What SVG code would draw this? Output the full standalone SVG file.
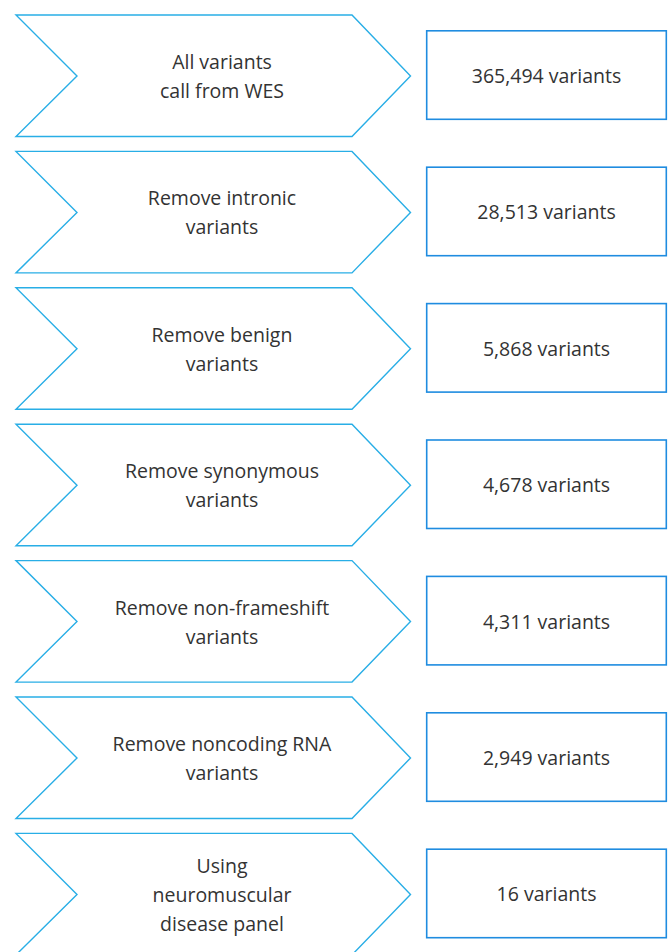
<svg xmlns="http://www.w3.org/2000/svg" width="671" height="952" viewBox="0 0 671 952">
<style>
.chev{fill:#fff;stroke:#29aee6;stroke-width:1.4;stroke-linejoin:miter}
.box{fill:#fff;stroke:#1f8ce0;stroke-width:1.6}
text{font-family:"Open Sans","Noto Sans","Liberation Sans",sans-serif;font-size:19.5px;fill:#333;text-anchor:middle}
</style>
<rect width="671" height="952" fill="#fff"/>
<g id="step1"><polygon class="chev" points="16,15 352,15 410.5,76 352,136.5 16,136.5 77,76"/><text x="222" y="69">All variants</text><text x="222" y="98">call from WES</text></g>
<g id="count1"><rect class="box" x="426.7" y="30.8" width="239.6" height="88.5"/><text x="546.5" y="83">365,494 variants</text></g>
<g id="step2"><polygon class="chev" points="16,151.4 352,151.4 410.5,212.4 352,272.9 16,272.9 77,212.4"/><text x="222" y="205.4">Remove intronic</text><text x="222" y="234.4">variants</text></g>
<g id="count2"><rect class="box" x="426.7" y="167.2" width="239.6" height="88.5"/><text x="546.5" y="219.4">28,513 variants</text></g>
<g id="step3"><polygon class="chev" points="16,287.8 352,287.8 410.5,348.8 352,409.3 16,409.3 77,348.8"/><text x="222" y="341.8">Remove benign</text><text x="222" y="370.8">variants</text></g>
<g id="count3"><rect class="box" x="426.7" y="303.6" width="239.6" height="88.5"/><text x="546.5" y="355.8">5,868 variants</text></g>
<g id="step4"><polygon class="chev" points="16,424.2 352,424.2 410.5,485.2 352,545.7 16,545.7 77,485.2"/><text x="222" y="478.2">Remove synonymous</text><text x="222" y="507.2">variants</text></g>
<g id="count4"><rect class="box" x="426.7" y="440" width="239.6" height="88.5"/><text x="546.5" y="492.2">4,678 variants</text></g>
<g id="step5"><polygon class="chev" points="16,560.6 352,560.6 410.5,621.6 352,682.1 16,682.1 77,621.6"/><text x="222" y="614.6">Remove non-frameshift</text><text x="222" y="643.6">variants</text></g>
<g id="count5"><rect class="box" x="426.7" y="576.4" width="239.6" height="88.5"/><text x="546.5" y="628.6">4,311 variants</text></g>
<g id="step6"><polygon class="chev" points="16,697 352,697 410.5,758 352,818.5 16,818.5 77,758"/><text x="222" y="751">Remove noncoding RNA</text><text x="222" y="780">variants</text></g>
<g id="count6"><rect class="box" x="426.7" y="712.8" width="239.6" height="88.5"/><text x="546.5" y="765">2,949 variants</text></g>
<g id="step7"><polygon class="chev" points="16,833.4 352,833.4 410.5,894.4 352,954.9 16,954.9 77,894.4"/><text x="222" y="873">Using</text><text x="222" y="902">neuromuscular</text><text x="222" y="930.5">disease panel</text></g>
<g id="count7"><rect class="box" x="426.7" y="849.2" width="239.6" height="88.5"/><text x="546.5" y="901.4">16 variants</text></g>
<g id="connectors"/>
</svg>
